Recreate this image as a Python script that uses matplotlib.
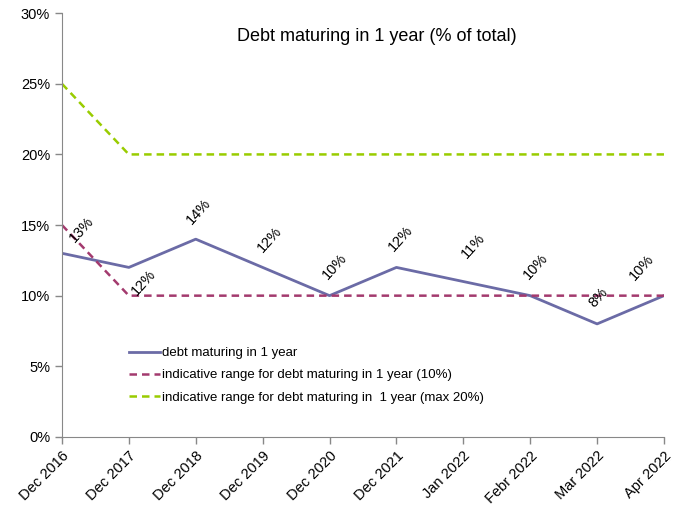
# Debt maturing in 1 year, with indicative ranges

import matplotlib.pyplot as plt
import numpy as np

plt.rcParams['font.family'] = ['Liberation Sans', 'DejaVu Sans']

periods = ['Dec 2016', 'Dec 2017', 'Dec 2018', 'Dec 2019', 'Dec 2020',
           'Dec 2021', 'Jan 2022', 'Febr 2022', 'Mar 2022', 'Apr 2022']
debt_1y = [13, 12, 14, 12, 10, 12, 11, 10, 8, 10]
range_10 = [15, 10, 10, 10, 10, 10, 10, 10, 10, 10]
range_max20 = [25, 20, 20, 20, 20, 20, 20, 20, 20, 20]

# label offsets in points (dx, dy) from each data point
label_offsets = [(14, 17), (11, -11), (2, 20), (5, 20), (4, 21),
                 (3, 21), (7, 26), (4, 21), (1, 19), (-16, 20)]

fig = plt.figure(figsize=(6.81, 5.08), dpi=100)
ax = fig.add_axes([0.091, 0.140, 0.884, 0.834])

x = np.arange(len(periods))
ax.plot(x, debt_1y, color='#6B6BA6', lw=2, label='debt maturing in 1 year')
ax.plot(x, range_10, color='#A33A6E', lw=1.8, ls=(0, (3, 2)),
        label='indicative range for debt maturing in 1 year (10%)')
ax.plot(x, range_max20, color='#99CC00', lw=1.8, ls=(0, (3, 2)),
        label='indicative range for debt maturing in  1 year (max 20%)')

for xi, v, (dx, dy) in zip(x, debt_1y, label_offsets):
    ax.annotate(f'{v}%', (xi, v), xytext=(dx, dy), textcoords='offset points',
                ha='center', va='center', rotation=48, fontsize=10.5)

ax.set_xlim(0, len(periods) - 1)
ax.set_ylim(0, 30)
ax.set_yticks(range(0, 31, 5))
ax.set_yticklabels([f'{t}%' for t in range(0, 31, 5)])
ax.set_xticks(x)
ax.set_xticklabels(periods, rotation=45, ha='right', rotation_mode='anchor')
ax.tick_params(labelsize=10.5, color='#888888', length=5, width=1)

for s in ['top', 'right']:
    ax.spines[s].set_visible(False)
for s in ['left', 'bottom']:
    ax.spines[s].set_color('#888888')

ax.text(0.523, 0.965, 'Debt maturing in 1 year (% of total)', transform=ax.transAxes,
        ha='center', va='top', fontsize=13)

ax.legend(loc='upper left', bbox_to_anchor=(0.092, 0.24), frameon=False,
          fontsize=9.5, handlelength=2.3, handletextpad=0.2, labelspacing=0.75)

fig.savefig('out.png', dpi=100)
